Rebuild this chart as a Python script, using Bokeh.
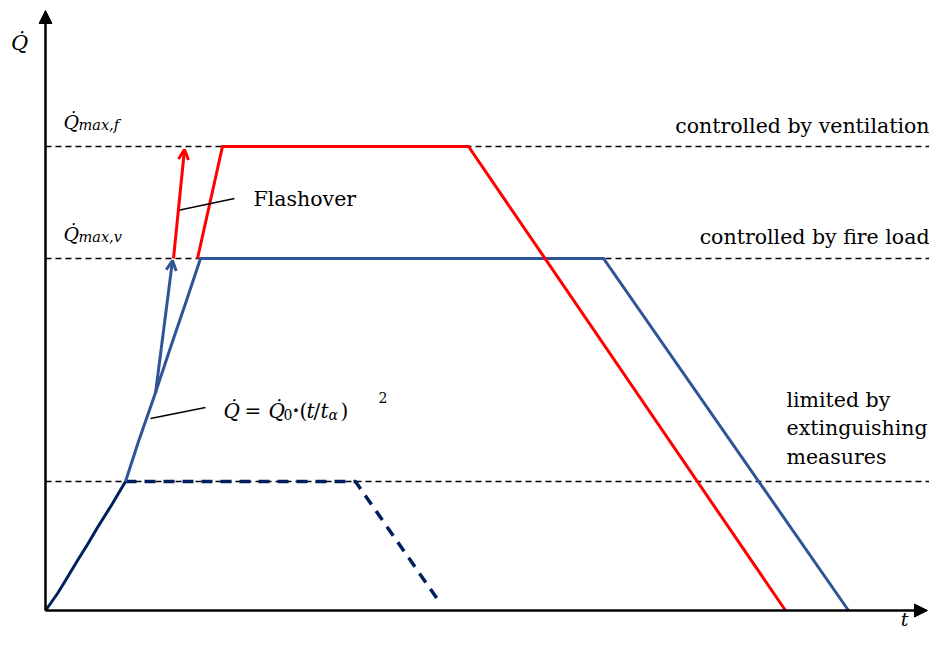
from bokeh.plotting import figure
from bokeh.models import Range1d, Label, Arrow, NormalHead, OpenHead
from bokeh.embed import file_html
from bokeh.resources import INLINE

# ---------------- data (chart units: t along x, Q-dot along y) ----------------
level_ventilation = 464
level_fireload = 352
level_extinguish = 129
level_t_end = 900

# alpha-t^2 growth phase (dark navy part, below the extinguishing level)
growth_low_t = [0, 5, 12, 20, 32, 42, 52, 67, 80]
growth_low_q = [0, 7, 17, 30, 50, 66, 83, 107, 129]

# fire-load controlled curve (growth -> plateau -> decay)
fireload_t = [80, 93, 108, 125, 141, 155, 558, 803]
fireload_q = [129, 169, 212, 263, 310, 352, 352, 0]

# ventilation controlled curve
vent_t = [152, 177, 423, 740]
vent_q = [352, 464, 464, 0]

# limited by extinguishing measures (dashed)
ext_t = [80, 310, 395]
ext_q = [129, 129, 7]

# flashover arrows: [t_start, q_start, t_end, q_end]
flash_blue = [110, 217, 127, 350]
flash_red = [128, 352, 139, 461]

# leader lines for annotations
leader_flash_t = [132, 189]
leader_flash_q = [400, 412]
leader_formula_t = [105, 160]
leader_formula_q = [192, 203]

# axes extents
axis_t_max = 882
axis_q_max = 600

# ---------------- figure ----------------
W, H = 929, 629
p = figure(width=W, height=H, output_backend="svg", toolbar_location=None,
           x_range=Range1d(-45, 884), y_range=Range1d(-19, 610),
           min_border=0, min_border_left=0, min_border_right=0,
           min_border_top=0, min_border_bottom=0)
p.axis.visible = False
p.grid.visible = False
p.outline_line_color = None
p.background_fill_color = "white"
p.border_fill_color = "white"

NAVY = "#002060"
BLUE = "#2F5597"
RED = "#FF0000"
FONT = "DejaVu Serif"

# horizontal reference levels
for lvl in (level_ventilation, level_fireload, level_extinguish):
    p.line([0, level_t_end], [lvl, lvl], line_color="black", line_width=1.3,
           line_dash="6 4")

# curves
p.line(growth_low_t, growth_low_q, line_color=NAVY, line_width=3, line_join="round")
p.line(ext_t, ext_q, line_color=NAVY, line_width=3.5, line_dash="11 8")
p.line(fireload_t, fireload_q, line_color=BLUE, line_width=3, line_join="miter")
p.line(vent_t, vent_q, line_color=RED, line_width=3, line_join="miter")

# leader lines
p.line(leader_flash_t, leader_flash_q, line_color="black", line_width=1.5)
p.line(leader_formula_t, leader_formula_q, line_color="black", line_width=1.5)

# flashover arrows
p.add_layout(Arrow(x_start=flash_blue[0], y_start=flash_blue[1],
                   x_end=flash_blue[2], y_end=flash_blue[3],
                   line_color=BLUE, line_width=3,
                   end=OpenHead(size=10, line_color=BLUE, line_width=3)))
p.add_layout(Arrow(x_start=flash_red[0], y_start=flash_red[1],
                   x_end=flash_red[2], y_end=flash_red[3],
                   line_color=RED, line_width=3,
                   end=OpenHead(size=10, line_color=RED, line_width=3)))

# axes with arrow heads
p.add_layout(Arrow(x_start=0, y_start=0, x_end=0, y_end=axis_q_max,
                   line_color="black", line_width=2.5,
                   end=NormalHead(size=13, fill_color="black", line_color="black")))
p.add_layout(Arrow(x_start=0, y_start=0, x_end=axis_t_max, y_end=0,
                   line_color="black", line_width=2.5,
                   end=NormalHead(size=13, fill_color="black", line_color="black")))

def lab(x, y, text, size=20.5, style="normal", align="left"):
    p.add_layout(Label(x=x, y=y, text=text, text_font=FONT,
                       text_font_size=f"{size}px", text_font_style=style,
                       text_align=align, text_baseline="alphabetic",
                       text_color="black"))

# axis labels
lab(-26, 568, "Q\u0307", size=21, style="italic", align="center")
lab(859, -8, "t", size=19, style="italic", align="center")

# level labels
lab(18, 489, "Q\u0307", size=19, style="italic")
lab(33, 486, "max,f", size=14.5, style="italic")
lab(18, 377, "Q\u0307", size=19, style="italic")
lab(33, 374, "max,v", size=14.5, style="italic")

lab(884, 485, "controlled by ventilation", align="right")
lab(884, 374, "controlled by fire load", align="right")
lab(208, 412, "Flashover")
lab(741, 211, "limited by")
lab(741, 183, "extinguishing")
lab(741, 154, "measures")

# formula  Q = Q0 · (t/tα)^2
fy = 200
lab(178, fy, "Q\u0307", size=20, style="italic")
lab(199, fy, "=", size=20)
lab(223, fy, "Q\u0307", size=20, style="italic")
lab(238, fy - 4, "0", size=14)
lab(246, fy, "\u00b7", size=28)
lab(254, fy, "(", size=20)
lab(261, fy, "t", size=20, style="italic")
lab(268, fy, "/", size=20)
lab(275, fy, "t", size=20, style="italic")
lab(283, fy - 4, "\u03b1", size=14, style="italic")
lab(295, fy, ")", size=20)
lab(333, fy + 13, "2", size=14)

open("out.html", "w").write(file_html(p, INLINE))
